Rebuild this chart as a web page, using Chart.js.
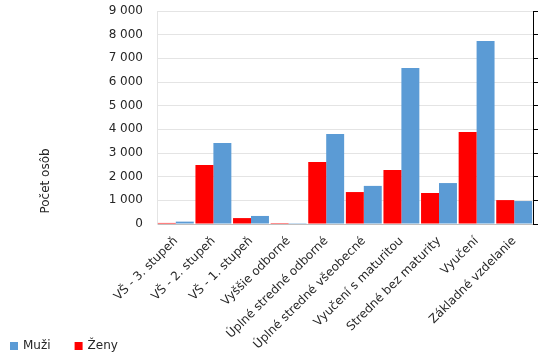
<!DOCTYPE html>
<html>
<head>
<meta charset="utf-8">
<script src="https://cdn.jsdelivr.net/npm/chart.js@4.4.1/dist/chart.umd.min.js"></script>
<style>
html,body{margin:0;padding:0;background:#fff;}
#wrap{width:542px;height:357px;position:relative;}
</style>
</head>
<body>
<div id="wrap"><canvas id="c" width="542" height="357"></canvas></div>
<script>
const categories = ['VŠ - 3. stupeň','VŠ - 2. stupeň','VŠ - 1. stupeň','Vyššie odborné','Úplné stredné odborné','Úplné stredné všeobecné','Vyučení s maturitou','Stredné bez maturity','Vyučení','Základné vzdelanie'];
const zeny = [45, 2490, 250, 40, 2620, 1350, 2280, 1310, 3890, 1010];
const muzi = [100, 3420, 340, 35, 3800, 1610, 6590, 1730, 7730, 970];
const yTitle = 'Počet osôb';
const seriesNames = ['Ženy', 'Muži'];

const FONT = 'DejaVu Sans';
const TXT = '#262626';
const fmt = v => String(v).replace(/\B(?=(\d{3})+(?!\d))/g, ' ');

const yTitlePlugin = {
  id: 'ytitle',
  afterDraw(chart) {
    const ctx = chart.ctx;
    ctx.save();
    ctx.font = '12px "' + FONT + '"';
    ctx.fillStyle = TXT;
    ctx.textAlign = 'center';
    ctx.textBaseline = 'middle';
    ctx.translate(46, 181);
    ctx.rotate(-Math.PI / 2);
    ctx.fillText(yTitle, 0, 0);
    ctx.restore();
  }
};

const legendPlugin = {
  id: 'bottomLegend',
  afterDraw(chart) {
    const ctx = chart.ctx;
    ctx.save();
    ctx.font = '12px "' + FONT + '"';
    ctx.textBaseline = 'middle';
    ctx.textAlign = 'left';
    let x = 10;
    const cy = 346;
    const ds = chart.data.datasets.slice().reverse();
    ds.forEach(d => {
      ctx.fillStyle = d.backgroundColor;
      ctx.fillRect(x, cy - 4, 8, 8);
      ctx.fillStyle = TXT;
      ctx.fillText(d.label, x + 13, cy);
      x += 13 + ctx.measureText(d.label).width + 24;
    });
    ctx.restore();
  }
};

new Chart(document.getElementById('c'), {
  type: 'bar',
  data: {
    labels: categories,
    datasets: [
      { label: seriesNames[0], data: zeny, backgroundColor: '#FF0000', yAxisID: 'y' },
      { label: seriesNames[1], data: muzi, backgroundColor: '#5B9BD5', yAxisID: 'y' }
    ]
  },
  options: {
    responsive: false,
    animation: false,
    devicePixelRatio: 1,
    layout: { padding: { top: 11, right: 4, left: 0, bottom: 0 } },
    datasets: { bar: { categoryPercentage: 0.955, barPercentage: 1 } },
    plugins: {
      legend: { display: false },
      tooltip: { enabled: false }
    },
    scales: {
      x: {
        grid: { display: false },
        border: { color: '#BFBFBF' },
        afterFit(s) { s.height = 133; s._computeLabelArea = () => undefined; },
        ticks: {
          minRotation: 45, maxRotation: 45,
          color: TXT,
          font: { family: FONT, size: 12 },
          padding: 2
        }
      },
      y: {
        position: 'left',
        min: 0, max: 9000,
        afterFit(s) { s.width = 157; s.paddingTop = 0; s.paddingBottom = 0; },
        grid: { color: '#E4E4E4', drawTicks: false },
        border: { color: '#E4E4E4' },
        ticks: {
          stepSize: 1000,
          padding: 14,
          color: TXT,
          font: { family: FONT, size: 12 },
          callback: v => fmt(v)
        }
      },
      y2: {
        position: 'right',
        min: 0, max: 9000,
        afterFit(s) { s.paddingTop = 0; s.paddingBottom = 0; },
        grid: { drawOnChartArea: false, drawTicks: true, tickLength: 5, color: '#000' },
        border: { color: '#000' },
        ticks: { stepSize: 1000, display: false }
      }
    }
  },
  plugins: [yTitlePlugin, legendPlugin]
});
</script>
</body>
</html>
